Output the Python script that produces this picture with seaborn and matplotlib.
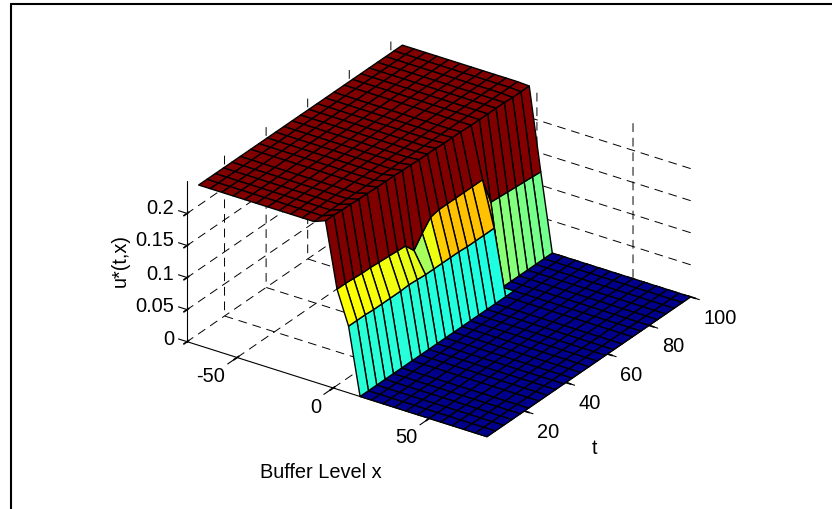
import numpy as np
import pandas as pd
import matplotlib
matplotlib.use('Agg')
import matplotlib.pyplot as plt
from matplotlib.colors import LinearSegmentedColormap
import seaborn as sns

# Grid
buffer_levels = [-70, -64, -58, -52, -46, -40, -34, -28, -22, -16, -10, -4, 2, 8, 14,
                 20, 26, 32, 38, 44, 50, 56, 62, 68, 74, 80]
times = [2, 6, 10, 14, 18, 22, 27, 31, 35, 39, 43, 47, 51, 55, 59, 63, 67, 72, 76, 80,
         84, 88, 92, 96, 100]

# Control values on the cliff columns, the rest of the surface is flat
u_at_xm4 = [0.257, 0.257, 0.256, 0.256, 0.255, 0.255, 0.254, 0.254, 0.254, 0.253, 0.253,
            0.252, 0.252, 0.252, 0.251, 0.251, 0.251, 0.25, 0.25, 0.25, 0.25, 0.25,
            0.249, 0.249, 0.249]
u_at_x2 = [0.156, 0.156, 0.155, 0.154, 0.154, 0.153, 0.152, 0.151, 0.150, 0.134, 0.152,
           0.168, 0.171, 0.171, 0.171, 0.171, 0.171, 0.171, 0.127, 0.126, 0.125, 0.124,
           0.123, 0.122, 0.121]
u_at_x8 = [0.104, 0.104, 0.104, 0.103, 0.103, 0.103, 0.103, 0.104, 0.103, 0.102, 0.102,
           0.102, 0.102, 0.102, 0.101, 0.101, 0.101, 0.101, 0, 0, 0, 0, 0, 0, 0]
u_high = 0.25
u_low = 0.0

x_ticks = [-50, 0, 50]
t_ticks = [20, 40, 60, 80, 100]
u_ticks = [0, 0.05, 0.1, 0.15, 0.2]
u_tick_labels = ['0', '0.05', '0.1', '0.15', '0.2']

sns.set_theme(style='ticks')
plt.rcParams['font.family'] = ['Liberation Sans', 'DejaVu Sans']
plt.rcParams['axes.unicode_minus'] = False
plt.rcParams['text.color'] = 'black'

# Build the table of u*(t,x)
surface = pd.DataFrame(index=times, columns=buffer_levels, dtype=float)
for x in buffer_levels:
    surface[x] = u_high if x < 2 else u_low
surface[-4] = u_at_xm4
surface[2] = u_at_x2
surface[8] = u_at_x8

X, T = np.meshgrid(buffer_levels, times)
U = surface.values

# MATLAB flavour of jet
jet = LinearSegmentedColormap.from_list('matlab_jet', [
    (0.0, (0, 0, 0.55)), (0.125, (0, 0, 1)), (0.375, (0, 1, 1)),
    (0.625, (1, 1, 0)), (0.875, (1, 0, 0)), (1.0, (0.5, 0, 0))])

fig = plt.figure(figsize=(8.32, 5.10), dpi=100)
ax = fig.add_axes([16 / 832, 8 / 510, 1.0, 1.0], projection='3d', proj_type='ortho')
ax.view_init(elev=27.8, azim=-55.8)
ax.set_box_aspect((1, 1, 0.5), zoom=1.035)

colors = jet(U / u_high)
surf = ax.plot_surface(X, T, U, facecolors=colors, rstride=1, cstride=1, shade=False,
                       edgecolor='black', linewidth=1.0, antialiased=True)
surf.set_clip_on(False)

# Tick marks pointing out of the box, the native ones do not show here
tick_style = dict(color='black', linewidth=0.8, clip_on=False)
for x in x_ticks:
    ax.plot([x, x], [2, -2.5], [0, 0], **tick_style)
for t in t_ticks:
    ax.plot([80, 84.5], [t, t], [0, 0], **tick_style)
for u in u_ticks:
    ax.plot([-76, -80.5], [2, 2], [u, u], **tick_style)

ax.set_xlim(-76, 80, view_margin=0)
ax.set_ylim(2, 100, view_margin=0)
ax.set_zlim(0, 0.25, view_margin=0)
ax.set_xticks(x_ticks)
ax.set_yticks(t_ticks)
ax.set_zticks(u_ticks)
ax.tick_params(labelsize=14.4, colors='black')
ax.tick_params(axis='y', pad=0)
ax.zaxis.set_tick_params(label1On=False, label2On=False)
plt.setp(ax.get_xticklabels(), ha='right', va='center')
plt.setp(ax.get_yticklabels(), ha='left', va='top')

for axis in [ax.xaxis, ax.yaxis, ax.zaxis]:
    axis.set_pane_color((1, 1, 1, 0))
    axis.line.set_color('black')
    axis.line.set_linewidth(0.8)
    axis._axinfo['grid'].update(color='black', linewidth=0.7, linestyle=(0, (9, 6)))
    axis.pane.set_edgecolor('none')
ax.grid(True)
ax.zaxis.set_ticks_position('lower')

# z tick labels sit at the left of the axis, level with the ticks
for u, label in zip(u_ticks, u_tick_labels):
    fig.text(174 / 832, 1 - (340 - 660 * u) / 510, label, fontsize=14.4, ha='right', va='center')

# Axis titles, placed as in the original
fig.text(321 / 832, 1 - 473 / 510, 'Buffer Level x', fontsize=14.4, ha='center', va='center')
fig.text(595 / 832, 1 - 449 / 510, 't', fontsize=14.4, ha='center', va='center')
fig.text(120 / 832, 1 - 261 / 510, 'u*(t,x)', fontsize=14.4, rotation=90, ha='center', va='center')

# Border of the picture, only top and left show in the original
fig.add_artist(plt.Line2D([11 / 832, 832 / 832], [505 / 510, 505 / 510], color='black', linewidth=1.5))
fig.add_artist(plt.Line2D([11 / 832, 11 / 832], [0, 505 / 510], color='black', linewidth=1.5))

fig.savefig('out.png', dpi=100)
